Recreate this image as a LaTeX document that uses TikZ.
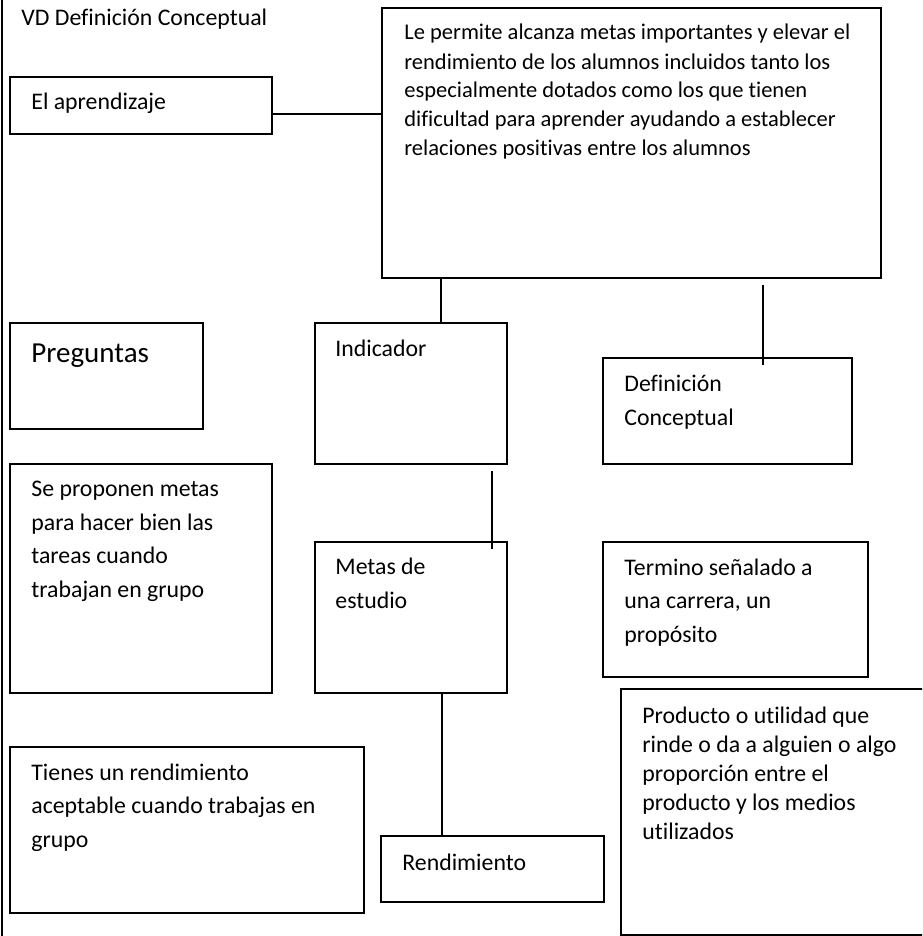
\documentclass[tikz,border=0pt]{standalone}
\usepackage{fontspec}
\setmainfont[Ligatures=NoCommon]{Carlito}
\usepackage{tikz}
\usetikzlibrary{fit}

\begin{document}
\begin{tikzpicture}[x=0.5pt,y=-0.5pt]
\useasboundingbox (0,0) rectangle (922,936);
\clip (0,0) rectangle (922,936);
\begin{scope}[caja/.style={draw=black,line width=1.1pt,inner sep=0pt,fit={#1}},
  txt/.style={anchor=base west,inner sep=0pt,align=left,font=\fontsize{11.9}{14.5}\selectfont},
  txtw/.style={txt,font=\fontsize{11.9}{16.75}\selectfont},
  linea/.style={draw=black,line width=1pt}]

    \draw[linea] (2,0) -- (2,936);
    \node[txt] (titulo) at (21,26) {VD Definición Conceptual};

    % multi-line texts sit on the baseline of their last line
    \node[caja={(10,77) (272,134)}] (apr) {};
    \node[txt] (aprtxt) at (31,110) {El aprendizaje};
    \node[caja={(382,8) (881,278)}] (big) {};
    \node[txt,font=\fontsize{11.25}{14.5}\selectfont] (bigtxt) at (404,156) {Le permite alcanza metas importantes y elevar el\\
      rendimiento de los alumnos incluidos tanto los\\
      especialmente dotados como los que tienen\\
      dificultad para aprender ayudando a establecer\\
      relaciones positivas entre los alumnos};

    \node[caja={(10,323) (203,429)}] (pre) {};
    \node[txt,font=\fontsize{14.5}{17}\selectfont] (pretxt) at (31,362) {Preguntas};
    \node[caja={(315,323) (507,464)}] (ind) {};
    \node[txt] (indtxt) at (335,356) {Indicador};
    \node[caja={(603,358) (852,464)}] (def) {};
    \node[txtw] (deftxt) at (624,425) {Definición\\Conceptual};

    \node[caja={(10,464) (272,693)}] (se) {};
    \node[txtw] (setxt) at (31,597) {Se proponen metas\\para hacer bien las\\tareas cuando\\trabajan en grupo};
    \node[caja={(315,542) (507,693)}] (met) {};
    \node[txtw] (mettxt) at (335,608) {Metas de\\estudio};
    \node[caja={(603,542) (868,677)}] (ter) {};
    \node[txtw] (tertxt) at (624,642) {Termino señalado a\\una carrera, un\\propósito};

    \node[caja={(10,747) (364,913)}] (tie) {};
    \node[txtw] (tietxt) at (31,847) {Tienes un rendimiento\\aceptable cuando trabajas en\\grupo};
    \node[caja={(381,836) (604,902)}] (ren) {};
    \node[txt] (rentxt) at (402,870) {Rendimiento};
    \node[caja={(621,689) (940,935)}] (pro) {};
    \node[txt] (protxt) at (642,839) {Producto o utilidad que\\rinde o da a alguien o algo\\proporción entre el\\producto y los medios\\utilizados};

    \coordinate (k1) at (272,114);
    \coordinate (k2) at (441,0);
    \coordinate (k3a) at (763,285);
    \coordinate (k3b) at (763,365);
    \coordinate (k4a) at (492,471);
    \coordinate (k4b) at (492,549);
    \coordinate (k5) at (442,0);

    \draw[linea] (k1) -- (k1 -| big.west);
    \draw[linea] (big.south -| k2) -- (ind.north -| k2);
    \draw[linea] (k3a) -- (k3b);
    \draw[linea] (k4a) -- (k4b);
    \draw[linea] (met.south -| k5) -- (ren.north -| k5);

\end{scope}
\end{tikzpicture}
\end{document}
